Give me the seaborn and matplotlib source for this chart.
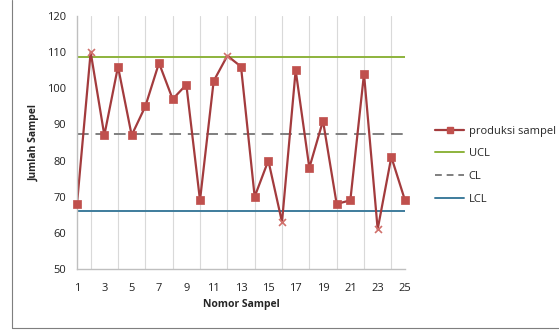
import matplotlib
matplotlib.use("Agg")
import matplotlib.pyplot as plt
import seaborn as sns
import pandas as pd
import numpy as np
from matplotlib.lines import Line2D

sample_no = list(range(1, 26))
produksi = [68, 110, 87, 106, 87, 95, 107, 97, 101, 69, 102, 109, 106, 70, 80,
            63, 105, 78, 91, 68, 69, 104, 61, 81, 69]
out_of_control = [2, 12, 16, 23]
ucl_value = 108.6
cl_value = 87.4
lcl_value = 66.1
y_ticks = [50, 60, 70, 80, 90, 100, 110, 120]
x_tick_labels = [1, 3, 5, 7, 9, 11, 13, 15, 17, 19, 21, 23, 25]

sns.set_theme(style="white")
plt.rcParams['font.family'] = ['Open Sans', 'DejaVu Sans']

df = pd.DataFrame({"x": sample_no, "y": produksi})
df["out"] = df["x"].isin(out_of_control)
lim = pd.DataFrame({"x": sample_no,
                    "UCL": [ucl_value] * len(sample_no),
                    "CL": [cl_value] * len(sample_no),
                    "LCL": [lcl_value] * len(sample_no)})

fig = plt.figure(figsize=(5.59, 3.33), dpi=100)
ax = fig.add_axes([77 / 559, 1 - 269 / 333, (405 - 77) / 559, (269 - 16) / 333])

line_col = "#A33B3D"
mark_col = "#C0504D"
ucl_col = "#8DB33C"
cl_col = "#7F7F7F"
lcl_col = "#3E7C9C"

ax.set_xticks(sample_no, minor=True)
ax.grid(True, axis="x", which="minor", color="#D9D9D9", linewidth=0.8)
ax.grid(False, axis="y")

sns.lineplot(data=lim, x="x", y="UCL", ax=ax, color=ucl_col, linewidth=1.4)
sns.lineplot(data=lim, x="x", y="CL", ax=ax, color=cl_col, linewidth=1.4,
             linestyle=(0, (6, 3.5)))
sns.lineplot(data=lim, x="x", y="LCL", ax=ax, color=lcl_col, linewidth=1.4)
sns.lineplot(data=df, x="x", y="y", ax=ax, color=line_col, linewidth=1.6)
sns.scatterplot(data=df[~df["out"]], x="x", y="y", ax=ax, marker="s", s=30,
                color=mark_col, edgecolor=mark_col, linewidth=0.5, zorder=5,
                clip_on=False)
sns.scatterplot(data=df[df["out"]], x="x", y="y", ax=ax, marker="x", s=25,
                color="#D0706B", linewidth=1.2, zorder=5, clip_on=False)

ax.set_xlim(1, 25)
ax.set_ylim(50, 120)
ax.set_yticks(y_ticks)
ax.set_xticks(x_tick_labels)
ax.set_xticklabels([str(v) for v in x_tick_labels])
ax.tick_params(axis="x", which="both", length=4, color="#BFBFBF", direction="out",
               labelsize=8, pad=6, colors="#222222")
ax.tick_params(axis="x", which="minor", length=4)
ax.tick_params(axis="y", length=0, labelsize=8, pad=8, colors="#222222")
for s in ["top", "right"]:
    ax.spines[s].set_visible(False)
for s in ["left", "bottom"]:
    ax.spines[s].set_color("#BFBFBF")
    ax.spines[s].set_linewidth(1.0)

ax.set_xlabel("Nomor Sampel", fontsize=7.5, fontweight="bold", labelpad=4)
ax.set_ylabel("Jumlah Sampel", fontsize=7.5, fontweight="bold", labelpad=5)

handles = [
    Line2D([], [], color=line_col, linewidth=1.6, marker="s", markersize=5,
           markerfacecolor=mark_col, markeredgecolor=mark_col),
    Line2D([], [], color=ucl_col, linewidth=1.4),
    Line2D([], [], color=cl_col, linewidth=1.4, linestyle=(0, (3.5, 2.5))),
    Line2D([], [], color=lcl_col, linewidth=1.4),
]
fig.legend(handles, ["produksi sampel", "UCL", "CL", "LCL"],
           loc="center left", bbox_to_anchor=(431 / 559, 1 - 165 / 333),
           frameon=False, fontsize=8, handlelength=2.6, handletextpad=0.4,
           labelspacing=1.05, borderaxespad=0)

fig.add_artist(Line2D([12 / 559, 12 / 559], [1 - 328 / 333, 1.0],
                      transform=fig.transFigure, color="#7F7F7F", linewidth=0.8))
fig.add_artist(Line2D([12 / 559, 1.0], [1 - 328 / 333, 1 - 328 / 333],
                      transform=fig.transFigure, color="#7F7F7F", linewidth=0.8))

fig.savefig("out.png", dpi=100)
